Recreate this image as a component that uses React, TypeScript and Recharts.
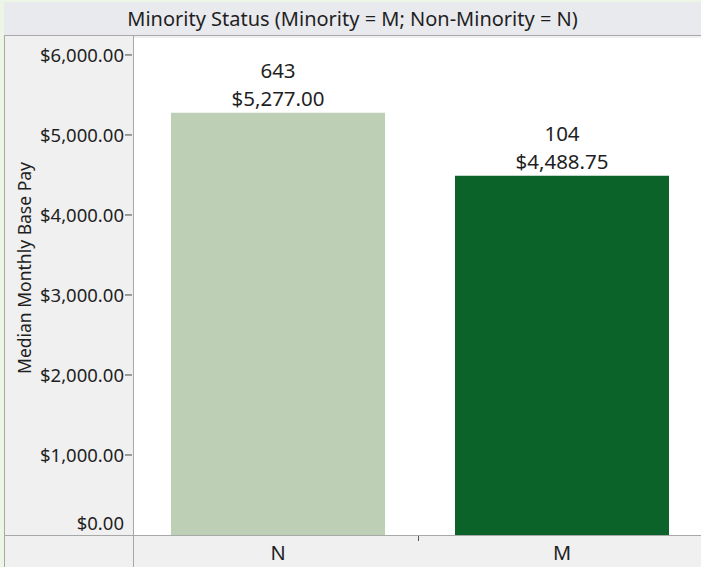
import React from 'react';
import { BarChart, Bar, XAxis, YAxis, CartesianGrid, LabelList, Cell } from 'recharts';

const categories = ['N', 'M'];
const medianPay = [5277.0, 4488.75];
const counts = [643, 104];
const barColors = ['#bdd0b6', '#0b632a'];
const yTicks = [0, 1000, 2000, 3000, 4000, 5000, 6000];

const data = categories.map((c, i) => ({ status: c, pay: medianPay[i], n: counts[i] }));

const FONT = '"Noto Sans", "Open Sans", sans-serif';
const TEXT = '#1f1f1f';

const money = (v: number) =>
  '$' + v.toLocaleString('en-US', { minimumFractionDigits: 2, maximumFractionDigits: 2 });

const YTick = (props: any) => {
  const { x, y, payload } = props;
  if (payload.value === 0) {
    return (
      <text x={x - 10} y={y - 13} textAnchor="end" dominantBaseline="central" fontSize={18.5} fill={TEXT} fontFamily={FONT}>
        {money(0)}
      </text>
    );
  }
  return (
    <g>
      <text x={x - 10} y={y} textAnchor="end" dominantBaseline="central" fontSize={18.5} fill={TEXT} fontFamily={FONT}>
        {money(payload.value)}
      </text>
      <line x1={x - 9} x2={x - 2} y1={y} y2={y} stroke="#444" strokeWidth={1} />
    </g>
  );
};

const BarLabel = (props: any) => {
  const { x, y, width, index } = props;
  const cx = x + width / 2;
  return (
    <g fontFamily={FONT} fontSize={20.5} fill={TEXT} textAnchor="middle">
      <text x={cx} y={y - 43} dominantBaseline="central">{counts[index]}</text>
      <text x={cx} y={y - 15} dominantBaseline="central">{money(medianPay[index])}</text>
    </g>
  );
};

export default function App() {
  return (
    <div
      style={{
        position: 'absolute',
        left: 0,
        top: 0,
        width: 701,
        height: 567,
        overflow: 'hidden',
        background: '#edf6e5',
        fontFamily: FONT,
      }}
    >
      <div
        style={{
          position: 'absolute',
          left: 4,
          top: 2,
          width: 697,
          height: 33,
          lineHeight: '33px',
          background: '#e9eaee',
          borderBottom: '1px solid #a8a8a8',
          textAlign: 'center',
          fontSize: 20,
          color: TEXT,
        }}
      >
        Minority Status (Minority = M; Non-Minority = N)
      </div>
      <div style={{ position: 'absolute', left: 4, top: 36, width: 700, height: 531, background: '#f0f0f0' }}>
        <BarChart
          width={700}
          height={531}
          data={data}
          margin={{ top: 2, right: 0, bottom: 0, left: 0 }}
          barSize={214}
        >
          <CartesianGrid horizontal={false} vertical={false} fill="#ffffff" stroke="none" />
          <XAxis
            dataKey="status"
            height={32}
            padding={{ left: 2, right: 0 }}
            tickSize={0}
            tickMargin={11}
            axisLine={false}
            tickLine={false}
            tick={{ fontSize: 20, fill: TEXT, fontFamily: FONT }}
          />
          <YAxis
            width={130}
            domain={[0, 6212]}
            ticks={yTicks}
            interval={0}
            allowDataOverflow
            tickSize={0}
            tickMargin={0}
            axisLine={false}
            tickLine={false}
            tick={<YTick />}
            label={{
              content: () => (
                <text
                  x={20}
                  y={232}
                  transform="rotate(-90, 20, 232)"
                  textAnchor="middle"
                  dominantBaseline="central"
                  fontSize={17.5}
                  fill={TEXT}
                  fontFamily={FONT}
                >
                  Median Monthly Base Pay
                </text>
              ),
            }}
          />
          <Bar dataKey="pay" isAnimationActive={false}>
            {data.map((d, i) => (
              <Cell key={d.status} fill={barColors[i]} />
            ))}
            <LabelList dataKey="pay" content={<BarLabel />} />
          </Bar>
        </BarChart>
      </div>
      {/* frame lines */}
      <div style={{ position: 'absolute', left: 4, top: 36, width: 1, height: 531, background: '#a8a8a8' }} />
      <div style={{ position: 'absolute', left: 133, top: 36, width: 1, height: 531, background: '#a8a8a8' }} />
      <div style={{ position: 'absolute', left: 4, top: 535, width: 697, height: 1, background: '#a8a8a8' }} />
      <div style={{ position: 'absolute', left: 418, top: 536, width: 1, height: 5, background: '#555' }} />
    </div>
  );
}
